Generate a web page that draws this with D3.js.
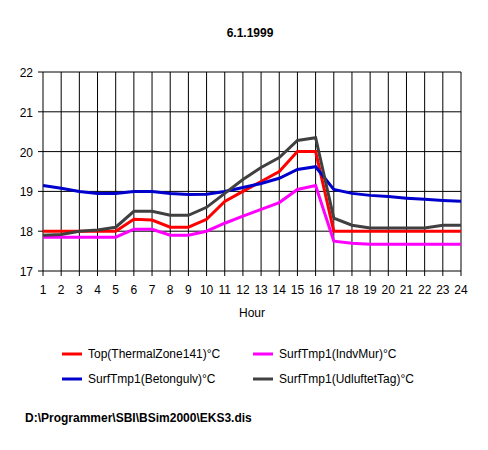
<!DOCTYPE html><html><head><script src="https://d3js.org/d3.v7.min.js"></script>
<style>body{margin:0;background:#fff}text{font-family:"Liberation Sans",Arial,sans-serif;font-size:12px}</style></head><body>
<svg id="c" width="488" height="450"></svg>
<script>
const hours=d3.range(1,25);
const yTicks=[17,18,19,20,21,22];
const topZone=[18,18,18,18,18,18.3,18.28,18.1,18.1,18.3,18.75,19,19.25,19.5,20,20,18,18,18,18,18,18,18,18];
const betongulv=[19.15,19.08,19,18.95,18.95,19,19,18.95,18.92,18.93,19,19.1,19.2,19.33,19.55,19.62,19.05,18.95,18.9,18.87,18.83,18.8,18.77,18.75];
const indvMur=[17.85,17.85,17.85,17.85,17.85,18.05,18.05,17.9,17.9,18,18.2,18.38,18.55,18.72,19.05,19.15,17.75,17.7,17.67,17.67,17.67,17.67,17.67,17.67];
const udluftet=[17.9,17.92,18,18.03,18.1,18.5,18.5,18.4,18.4,18.6,18.95,19.3,19.6,19.85,20.28,20.35,18.33,18.15,18.08,18.08,18.08,18.08,18.15,18.15];
const series=[["Top(ThermalZone141)°C",topZone,"#ff0000"],["SurfTmp1(Betongulv)°C",betongulv,"#0000cc"],["SurfTmp1(IndvMur)°C",indvMur,"#ff00ff"],["SurfTmp1(UdluftetTag)°C",udluftet,"#404040"]];
const svg=d3.select("#c");
const x=d3.scaleLinear().domain([1,24]).range([43,461]);
const y=d3.scaleLinear().domain([17,22]).range([271,72]);
svg.append("text").attr("x",250).attr("y",37).attr("text-anchor","middle").attr("font-weight","bold").text("6.1.1999");
const g=svg.append("g");
g.selectAll(".v").data(hours).join("line").attr("x1",d=>x(d)).attr("x2",d=>x(d)).attr("y1",72).attr("y2",276).attr("stroke","#000");
g.selectAll(".h").data(yTicks).join("line").attr("x1",38).attr("x2",461).attr("y1",d=>y(d)).attr("y2",d=>y(d)).attr("stroke","#000");
g.selectAll(".yl").data(yTicks).join("text").attr("x",33).attr("y",d=>y(d)+5).attr("text-anchor","end").text(d=>d);
g.selectAll(".xl").data(hours).join("text").attr("x",d=>x(d)).attr("y",294).attr("text-anchor","middle").text(d=>d);
svg.append("text").attr("x",252).attr("y",317).attr("text-anchor","middle").text("Hour");
const line=d3.line().x((d,i)=>x(hours[i])).y(d=>y(d));
series.forEach(s=>svg.append("path").attr("d",line(s[1])).attr("fill","none").attr("stroke",s[2]).attr("stroke-width",3));
const pos=[[62,354],[62,379],[253,354],[253,379]];
series.forEach((s,i)=>{const [lx,ly]=pos[i];
svg.append("line").attr("x1",lx).attr("x2",lx+20).attr("y1",ly).attr("y2",ly).attr("stroke",s[2]).attr("stroke-width",3);
svg.append("text").attr("x",lx+26).attr("y",ly+4).text(s[0]);});
svg.append("text").attr("x",25).attr("y",422).attr("font-weight","bold").text("D:\\Programmer\\SBI\\BSim2000\\EKS3.dis");
</script></body></html>
